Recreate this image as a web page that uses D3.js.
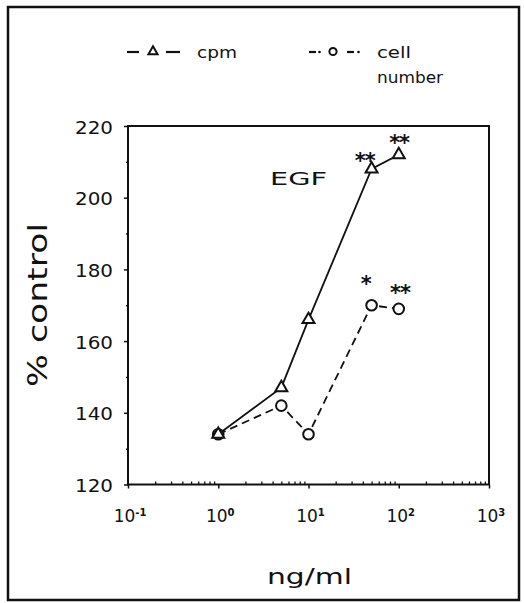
<!DOCTYPE html>
<html>
<head>
<meta charset="utf-8">
<script src="https://cdn.jsdelivr.net/npm/d3@7"></script>
<style>
  html, body { margin: 0; padding: 0; background: #fff; }
  svg { display: block; }
  text { font-family: "DejaVu Sans", sans-serif; fill: #111; }
</style>
</head>
<body>
<svg id="chart" width="524" height="603"></svg>
<script>
// ---- data ----
const concentrations = [1, 5, 10, 50, 100];          // ng/ml
const cpmValues      = [134, 147, 166, 208, 212];    // % control
const cellValues     = [134, 142, 134, 170, 169];    // % control
const yTickValues    = [120, 140, 160, 180, 200, 220];
const yMinorValues   = [130, 150, 170, 190, 210];
const xTickValues    = [0.1, 1, 10, 100, 1000];
const xTickExponents = ["-1", "0", "1", "2", "3"];
const seriesNames    = ["cpm", "cell number"];
// significance marks, placed in data units (x in ng/ml, y in % control)
const sigX    = [42, 101, 43, 103];
const sigY    = [209.4, 214.4, 175.0, 172.6];
const sigText = ["**", "**", "*", "**"];

// ---- layout ----
const svg = d3.select("#chart");
const L = 128, R = 489, T = 126, B = 484.5;

const x = d3.scaleLog().domain([0.1, 1000]).range([L, R]);
const y = d3.scaleLinear().domain([120, 220]).range([B, T]);

// outer frame
svg.append("rect")
  .attr("x", 8).attr("y", 7).attr("width", 511).attr("height", 593)
  .attr("fill", "none").attr("stroke", "#111").attr("stroke-width", 2.5);

// plot box
svg.append("rect")
  .attr("x", L).attr("y", T).attr("width", R - L).attr("height", B - T)
  .attr("fill", "none").attr("stroke", "#111").attr("stroke-width", 2);

// y axis
const yAxis = d3.axisLeft(y).tickValues(yTickValues).tickSize(4).tickFormat("");
const gy = svg.append("g").attr("transform", `translate(${L},0)`).call(yAxis);
gy.select(".domain").remove();
gy.selectAll("line").attr("stroke", "#111").attr("stroke-width", 1.5);
const yMinor = d3.axisLeft(y).tickValues(yMinorValues).tickSize(2).tickFormat("");
const gym = svg.append("g").attr("transform", `translate(${L},0)`).call(yMinor);
gym.select(".domain").remove();
gym.selectAll("line").attr("stroke", "#111").attr("stroke-width", 1.5);

svg.append("g").selectAll("text").data(yTickValues).join("text")
  .attr("x", L - 15).attr("y", d => y(d) + 7.5)
  .attr("text-anchor", "end")
  .attr("font-size", 17)
  .attr("textLength", 38).attr("lengthAdjust", "spacingAndGlyphs")
  .text(d => d);

// x axis
const xAxis = d3.axisBottom(x).tickValues(xTickValues).tickSize(4).tickFormat("");
const gx = svg.append("g").attr("transform", `translate(0,${B})`).call(xAxis);
gx.select(".domain").remove();
gx.selectAll("line").attr("stroke", "#111").attr("stroke-width", 1.5);

const minorX = [];
for (let e = -1; e < 3; e++) for (let m = 2; m <= 9; m++) minorX.push(m * Math.pow(10, e));
const xMinor = d3.axisTop(x).tickValues(minorX).tickSize(3).tickFormat("");
const gxm = svg.append("g").attr("transform", `translate(0,${B})`).call(xMinor);
gxm.select(".domain").remove();
gxm.selectAll("line").attr("stroke", "#111").attr("stroke-width", 1.3);

const xl = svg.append("g").selectAll("text").data(xTickValues).join("text")
  .attr("x", d => x(d) + 2).attr("y", 522)
  .attr("text-anchor", "middle")
  .attr("font-size", 17);
xl.append("tspan").text("10");
xl.append("tspan").attr("dy", -6).attr("font-size", 10).attr("font-weight", "bold")
  .text((d, i) => xTickExponents[i]);

// axis titles
svg.append("text")
  .attr("transform", "translate(47,305) rotate(-90)")
  .attr("text-anchor", "middle")
  .attr("font-size", 26)
  .attr("textLength", 164).attr("lengthAdjust", "spacingAndGlyphs")
  .text("% control");

svg.append("text")
  .attr("x", 309.5).attr("y", 584)
  .attr("text-anchor", "middle")
  .attr("font-size", 22)
  .attr("textLength", 85).attr("lengthAdjust", "spacingAndGlyphs")
  .text("ng/ml");

svg.append("text")
  .attr("x", 270).attr("y", 185)
  .attr("font-size", 18)
  .attr("textLength", 57).attr("lengthAdjust", "spacingAndGlyphs")
  .text("EGF");

// lines
const line = d3.line().x(d => x(d[0])).y(d => y(d[1]));
const cpmData  = concentrations.map((c, i) => [c, cpmValues[i]]);
const cellData = concentrations.map((c, i) => [c, cellValues[i]]);

svg.append("path").datum(cellData).attr("d", line)
  .attr("fill", "none").attr("stroke", "#111").attr("stroke-width", 1.8)
  .attr("stroke-dasharray", "8,5");
svg.append("path").datum(cpmData).attr("d", line)
  .attr("fill", "none").attr("stroke", "#111").attr("stroke-width", 1.8);

// markers
const tri = d3.symbol().type(d3.symbolTriangle).size(62);
svg.append("g").selectAll("circle").data(cellData).join("circle")
  .attr("cx", d => x(d[0])).attr("cy", d => y(d[1])).attr("r", 5.3)
  .attr("fill", "#fff").attr("stroke", "#111").attr("stroke-width", 2);
svg.append("g").selectAll("path").data(cpmData).join("path")
  .attr("d", tri)
  .attr("transform", d => `translate(${x(d[0])},${y(d[1])})`)
  .attr("fill", "#fff").attr("stroke", "#111").attr("stroke-width", 2)
  .attr("stroke-linejoin", "miter");

// significance marks
svg.append("g").selectAll("text").data(sigText).join("text")
  .attr("x", (d, i) => x(sigX[i])).attr("y", (d, i) => y(sigY[i]) + 4)
  .attr("text-anchor", "middle")
  .attr("font-size", 21).attr("font-weight", "bold")
  .attr("letter-spacing", -1)
  .text(d => d);

// legend
const lg = svg.append("g");
// cpm: solid dash - triangle - dash
lg.append("line").attr("x1", 127).attr("x2", 139).attr("y1", 52).attr("y2", 52)
  .attr("stroke", "#111").attr("stroke-width", 2.2);
lg.append("line").attr("x1", 166).attr("x2", 180).attr("y1", 52).attr("y2", 52)
  .attr("stroke", "#111").attr("stroke-width", 2.2);
lg.append("path").attr("d", d3.symbol().type(d3.symbolTriangle).size(36))
  .attr("transform", "translate(153,51.5)")
  .attr("fill", "#fff").attr("stroke", "#111").attr("stroke-width", 2);
lg.append("text").attr("x", 197).attr("y", 58).attr("font-size", 16.5)
  .attr("textLength", 40).attr("lengthAdjust", "spacingAndGlyphs")
  .text(seriesNames[0]);

// cell number: dash-dot - circle - dash-dot
[[309, 316], [347, 354]].forEach(s => {
  lg.append("line").attr("x1", s[0]).attr("x2", s[1]).attr("y1", 52).attr("y2", 52)
    .attr("stroke", "#111").attr("stroke-width", 2.2);
});
[319.5, 358.5].forEach(cx => {
  lg.append("circle").attr("cx", cx).attr("cy", 52).attr("r", 1.3).attr("fill", "#111");
});
lg.append("circle").attr("cx", 333).attr("cy", 51.5).attr("r", 3.6)
  .attr("fill", "#fff").attr("stroke", "#111").attr("stroke-width", 2);
const cellWords = seriesNames[1].split(" ");
lg.append("text").attr("x", 377).attr("y", 58).attr("font-size", 16)
  .attr("textLength", 34).attr("lengthAdjust", "spacingAndGlyphs")
  .text(cellWords[0]);
lg.append("text").attr("x", 377).attr("y", 83).attr("font-size", 16)
  .attr("textLength", 66).attr("lengthAdjust", "spacingAndGlyphs")
  .text(cellWords[1]);
</script>
</body>
</html>
